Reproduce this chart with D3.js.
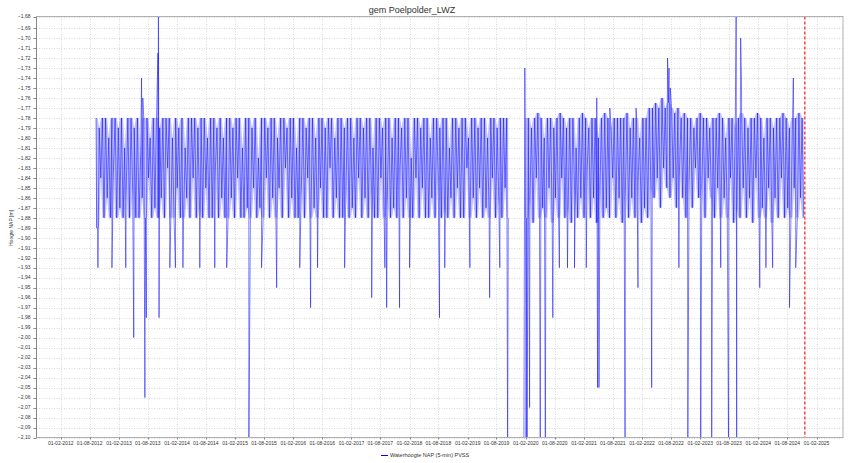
<!DOCTYPE html>
<html><head><meta charset="utf-8">
<script src="https://cdn.jsdelivr.net/npm/d3@7"></script>
<style>body{margin:0;background:#fff;overflow:hidden} text{font-family:"Liberation Sans",Arial,sans-serif;fill:#333}</style>
</head><body><svg id="c" width="849" height="463"></svg>
<script>
const chartTitle = "gem Poelpolder_LWZ";
const yTitle = "Hoogte NAP [m]";
const seriesName = "Waterhoogte NAP (5-min) PVSS";
const xDomain = ["2011-09-02", "2025-07-17"];
const yDomain = [-2.10, -1.6784];
const xTickDates = ["2012-02-01","2012-08-01","2013-02-01","2013-08-01","2014-02-01","2014-08-01","2015-02-01","2015-08-01","2016-02-01","2016-08-01","2017-02-01","2017-08-01","2018-02-01","2018-08-01","2019-02-01","2019-08-01","2020-02-01","2020-08-01","2021-02-01","2021-08-01","2022-02-01","2022-08-01","2023-02-01","2023-08-01","2024-02-01","2024-08-01","2025-02-01"];
const yTickValues = [-1.69,-1.70,-1.71,-1.72,-1.73,-1.74,-1.75,-1.76,-1.77,-1.78,-1.79,-1.80,-1.81,-1.82,-1.83,-1.84,-1.85,-1.86,-1.87,-1.88,-1.89,-1.90,-1.91,-1.92,-1.93,-1.94,-1.95,-1.96,-1.97,-1.98,-1.99,-2.00,-2.01,-2.02,-2.03,-2.04,-2.05,-2.06,-2.07,-2.08,-2.09,-2.10];

const seg1Start = "2012-09-10", seg1End = "2019-10-14";
const seg1Values = [
-1.78,-1.89,-1.79,-1.84,-1.78,-1.88,-1.78,-1.86,-1.80,-1.88,-1.78,-1.83,-1.78,-1.88,-1.79,-1.87,-1.78,-1.88,-1.81,-1.85,
-1.78,-1.88,-1.78,-1.85,-1.79,-1.88,-1.78,-1.88,-1.82,-1.86,-1.78,-1.88,-1.78,-1.84,-1.80,-1.88,-1.78,-1.87,-1.78,-1.88,
-1.79,-1.86,-1.78,-1.88,-1.78,-1.83,-1.78,-1.88,-1.80,-1.88,-1.78,-1.85,-1.79,-1.88,-1.78,-1.88,-1.81,-1.86,-1.78,-1.88,
-1.78,-1.84,-1.78,-1.88,-1.79,-1.87,-1.78,-1.88,-1.78,-1.85,-1.80,-1.88,-1.78,-1.88,-1.78,-1.83,-1.79,-1.88,-1.78,-1.86,
-1.80,-1.88,-1.78,-1.88,-1.78,-1.86,-1.79,-1.88,-1.78,-1.84,-1.78,-1.88,-1.81,-1.88,-1.78,-1.87,-1.78,-1.88,-1.79,-1.85,
-1.78,-1.88,-1.82,-1.87,-1.78,-1.88,-1.78,-1.84,-1.79,-1.88,-1.78,-1.86,-1.78,-1.88,-1.80,-1.85,-1.78,-1.88,-1.78,-1.83,
-1.79,-1.88,-1.78,-1.86,-1.78,-1.88,-1.81,-1.88,-1.78,-1.85,-1.78,-1.88,-1.79,-1.84,-1.78,-1.88,-1.78,-1.87,-1.80,-1.88,
-1.78,-1.85,-1.78,-1.88,-1.79,-1.88,-1.78,-1.83,-1.78,-1.88,-1.80,-1.86,-1.78,-1.88,-1.78,-1.88,-1.79,-1.85,-1.78,-1.88,
-1.78,-1.87,-1.80,-1.88,-1.78,-1.84,-1.78,-1.88,-1.79,-1.86,-1.78,-1.88,-1.78,-1.85,-1.81,-1.88,-1.78,-1.88,-1.78,-1.84,
-1.79,-1.88,-1.78,-1.86,-1.78,-1.88,-1.80,-1.87,-1.78,-1.88,-1.78,-1.83,-1.79,-1.88,-1.78,-1.86,-1.78,-1.88,-1.82,-1.88,
-1.78,-1.84,-1.78,-1.88,-1.79,-1.85,-1.78,-1.88,-1.78,-1.88,-1.80,-1.86,-1.78,-1.88,-1.78,-1.84,-1.79,-1.88,-1.78,-1.87,
-1.78,-1.88,-1.81,-1.86,-1.78,-1.88,-1.78,-1.85,-1.79,-1.88,-1.78,-1.88,-1.78,-1.83,-1.80,-1.88,-1.78,-1.86,-1.78,-1.88,
-1.79,-1.85,-1.78,-1.88,-1.78,-1.87,-1.80,-1.88,-1.78,-1.84,-1.78,-1.88,-1.79,-1.86,-1.78,-1.88,-1.78,-1.85,-1.78,-1.88];

const seg2Start = "2020-01-28", seg2End = "2024-11-12";
const seg2Values = [
-1.78,-1.88,-1.78,-1.86,-1.79,-1.885,-1.78,-1.84,-1.775,-1.88,-1.78,-1.87,-1.80,-1.88,-1.78,-1.85,-1.78,-1.885,-1.79,-1.86,
-1.78,-1.88,-1.775,-1.84,-1.78,-1.88,-1.79,-1.87,-1.78,-1.885,-1.78,-1.85,-1.81,-1.88,-1.78,-1.86,-1.775,-1.88,-1.78,-1.83,
-1.79,-1.88,-1.78,-1.86,-1.78,-1.885,-1.80,-1.85,-1.78,-1.88,-1.775,-1.87,-1.78,-1.88,-1.79,-1.84,-1.78,-1.88,-1.78,-1.86,
-1.78,-1.885,-1.78,-1.85,-1.775,-1.88,-1.79,-1.86,-1.78,-1.88,-1.78,-1.84,-1.80,-1.885,-1.78,-1.87,-1.78,-1.88,-1.77,-1.85,
-1.77,-1.86,-1.765,-1.84,-1.77,-1.87,-1.76,-1.83,-1.77,-1.85,-1.765,-1.86,-1.77,-1.84,-1.775,-1.87,-1.77,-1.83,-1.78,-1.86,
-1.775,-1.88,-1.78,-1.84,-1.78,-1.87,-1.79,-1.83,-1.78,-1.86,-1.775,-1.85,-1.78,-1.88,-1.78,-1.84,-1.79,-1.86,-1.78,-1.88,
-1.78,-1.85,-1.775,-1.88,-1.78,-1.86,-1.80,-1.88,-1.78,-1.84,-1.78,-1.885,-1.79,-1.87,-1.78,-1.88,-1.775,-1.85,-1.78,-1.88,
-1.79,-1.86,-1.78,-1.885,-1.78,-1.84,-1.775,-1.88,-1.78,-1.87,-1.80,-1.88,-1.78,-1.85,-1.78,-1.885,-1.79,-1.86,-1.78,-1.88,
-1.78,-1.84,-1.775,-1.88,-1.78,-1.87,-1.79,-1.88,-1.78,-1.85,-1.78,-1.88,-1.775,-1.86,-1.78,-1.88];

const spikeDates = [
"2012-09-14","2012-09-22","2012-12-19","2013-03-16","2013-05-05","2013-06-23","2013-07-01","2013-07-14","2013-07-23",
"2013-10-04","2013-10-07","2013-10-11","2013-12-18","2014-01-22","2014-03-10","2014-06-24","2014-09-26","2014-12-10",
"2015-04-28","2015-07-17","2015-10-20","2016-03-13","2016-05-20","2016-07-03","2016-12-20","2017-06-08","2017-08-30",
"2017-09-10","2017-11-30","2018-02-01","2018-08-08","2018-09-10","2019-02-15","2019-06-19","2019-08-22","2019-10-10",
"2020-01-20","2020-01-26","2020-02-03","2020-02-09","2020-02-25","2020-05-02","2020-06-03","2020-07-20","2020-08-30",
"2020-10-20","2020-12-03","2021-02-15","2021-04-22","2021-04-27","2021-05-06","2021-07-13","2021-10-17","2021-12-25",
"2022-01-06","2022-04-02","2022-07-11","2022-07-20","2022-07-28","2022-09-20","2022-11-15","2023-02-04","2023-04-14",
"2023-06-10","2023-07-29","2023-09-15","2023-09-18","2023-10-13","2023-10-18","2024-02-10","2024-03-20","2024-05-01",
"2024-08-15","2024-09-08","2024-09-23"];
const spikeValues = [
-1.89,-1.93,-1.93,-1.93,-2.00,-1.74,-1.76,-2.06,-1.98,
-1.715,-1.66,-1.98,-1.93,-1.93,-1.93,-1.93,-1.93,-1.93,
-2.12,-1.93,-1.95,-1.93,-1.97,-1.93,-1.93,-1.96,-1.93,
-1.97,-1.97,-1.93,-1.98,-1.93,-1.93,-1.96,-1.93,-2.12,
-2.12,-1.73,-2.12,-2.12,-2.07,-2.12,-2.12,-1.98,-1.93,
-1.93,-1.93,-1.93,-1.76,-2.05,-2.05,-1.77,-2.12,-1.77,
-1.95,-2.05,-1.72,-1.73,-1.75,-1.93,-2.12,-2.12,-2.12,
-1.93,-2.12,-1.66,-2.12,-1.70,-1.74,-1.95,-1.93,-1.93,
-1.97,-1.74,-1.93];
const todayDate = "2024-11-19";

const parse = d3.utcParse("%Y-%m-%d");
const svg = d3.select("#c");
const L = 36.5, R = 843, T = 16.5, B = 437.5;
const x = d3.scaleUtc().domain(xDomain.map(parse)).range([L, R]);
const y = d3.scaleLinear().domain(yDomain).range([B, T]);

// grid
const yTicksAll = [yDomain[1]].concat(yTickValues);
svg.append("g").selectAll("line").data(yTicksAll).join("line")
  .attr("x1", L).attr("x2", R).attr("y1", d => Math.round(y(d)) + 0.5).attr("y2", d => Math.round(y(d)) + 0.5)
  .attr("stroke", "#d0d0d0").attr("stroke-dasharray", "1,1.5").attr("stroke-width", 0.8);
svg.append("g").selectAll("line").data(xTickDates).join("line")
  .attr("x1", d => Math.round(x(parse(d))) + 0.5).attr("x2", d => Math.round(x(parse(d))) + 0.5)
  .attr("y1", T).attr("y2", B)
  .attr("stroke", "#d0d0d0").attr("stroke-dasharray", "1,1.5").attr("stroke-width", 0.8);

// data
function segPoints(start, end, vals) {
  const s = parse(start).getTime(), e = parse(end).getTime();
  return vals.map((v, i) => ({ t: new Date(s + (e - s) * i / (vals.length - 1)), v }));
}
function buildSeg(base, lo, hi) {
  const pts = base.slice();
  spikeDates.forEach((d, i) => {
    const t = parse(d);
    if (t >= lo && t < hi) pts.push({ t, v: spikeValues[i] });
  });
  pts.sort((a, b) => a.t - b.t);
  return pts;
}
const base1 = segPoints(seg1Start, seg1End, seg1Values);
const base2 = segPoints(seg2Start, seg2End, seg2Values);
const seg1 = buildSeg(base1, parse("2011-01-01"), parse("2019-11-30"));
const seg2 = buildSeg(base2, parse("2019-11-30"), parse("2026-01-01"));

// envelope of neighbouring readings (dense 5-min data looks filled)
function envelope(base) {
  return base.map((p, i) => {
    const w = base.slice(Math.max(0, i - 1), i + 2).map(q => q.v);
    return { t: p.t, lo: d3.min(w), hi: d3.max(w) };
  });
}

svg.append("clipPath").attr("id", "clip").append("rect")
  .attr("x", L).attr("y", T).attr("width", R - L).attr("height", B - T);
const g = svg.append("g").attr("clip-path", "url(#clip)");
const area = d3.area().x(d => x(d.t)).y0(d => y(d.lo)).y1(d => y(d.hi));
[base1, base2].forEach(b => {
  g.append("path").datum(envelope(b)).attr("d", area)
    .attr("fill", "#0000ff").attr("fill-opacity", 0.24).attr("stroke", "none");
});
const line = d3.line().x(d => x(d.t)).y(d => y(d.v));
[seg1, seg2].forEach(seg => {
  g.append("path").datum(seg).attr("d", line)
    .attr("fill", "none").attr("stroke", "#0000ff").attr("stroke-width", 0.7)
    .attr("stroke-opacity", 0.72).attr("stroke-linejoin", "miter");
});

// today line
g.append("line").attr("x1", x(parse(todayDate))).attr("x2", x(parse(todayDate)))
  .attr("y1", T).attr("y2", B).attr("stroke", "#ff4a4a").attr("stroke-width", 1.6)
  .attr("stroke-dasharray", "3,2");

// frame
svg.append("rect").attr("x", L).attr("y", T).attr("width", R - L).attr("height", B - T)
  .attr("fill", "none").attr("stroke", "#b0b0b0").attr("stroke-width", 1);
svg.append("line").attr("x1", L).attr("x2", L).attr("y1", T).attr("y2", B)
  .attr("stroke", "#888").attr("stroke-width", 1);

// y axis ticks & labels
const fmt = d3.format(".2f");
const yg = svg.append("g");
yg.selectAll("line").data(yTicksAll).join("line")
  .attr("x1", L - 3).attr("x2", L).attr("y1", d => Math.round(y(d)) + 0.5).attr("y2", d => Math.round(y(d)) + 0.5)
  .attr("stroke", "#888");
yg.selectAll("text").data(yTicksAll).join("text")
  .attr("x", L - 6).attr("y", d => y(d)).attr("dy", "0.35em")
  .attr("text-anchor", "end").attr("font-size", 5).text(d => fmt(d).replace(".", ","));

// x axis ticks & labels
const xg = svg.append("g");
xg.selectAll("line").data(xTickDates).join("line")
  .attr("x1", d => Math.round(x(parse(d))) + 0.5).attr("x2", d => Math.round(x(parse(d))) + 0.5)
  .attr("y1", B).attr("y2", B + 2).attr("stroke", "#888");
const xfmt = d3.utcFormat("%d-%m-%Y");
xg.selectAll("text").data(xTickDates).join("text")
  .attr("x", d => x(parse(d))).attr("y", 444.5)
  .attr("text-anchor", "middle").attr("font-size", 5).text(d => xfmt(parse(d)));

// titles
svg.append("text").attr("x", 412).attr("y", 12.5).attr("text-anchor", "middle")
  .attr("font-size", 9).text(chartTitle);
svg.append("text").attr("transform", "translate(13,228) rotate(-90)").attr("text-anchor", "middle")
  .attr("font-size", 5).text(yTitle);

// legend
svg.append("line").attr("x1", 381).attr("x2", 388).attr("y1", 455.5).attr("y2", 455.5)
  .attr("stroke", "#0000ff").attr("stroke-width", 1);
svg.append("text").attr("x", 390).attr("y", 457.3).attr("font-size", 5.5).text(seriesName);
</script></body></html>
